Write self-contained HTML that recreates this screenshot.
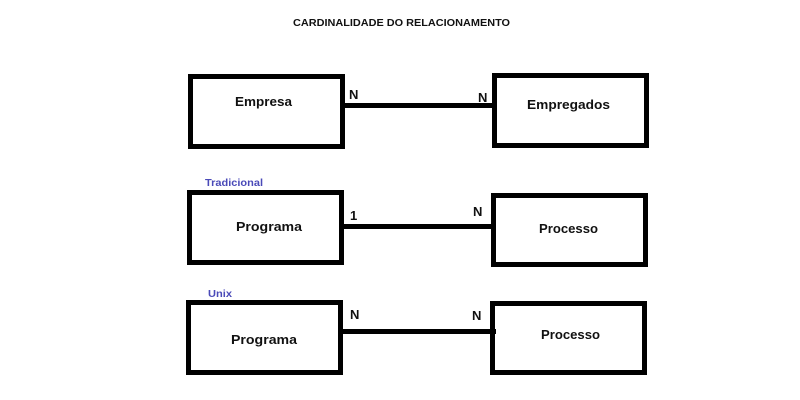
<!DOCTYPE html>
<html><head><meta charset="utf-8"><style>html,body{margin:0;padding:0;background:#fff;}svg{display:block}</style></head>
<body>
<svg width="800" height="400" viewBox="0 0 800 400" xmlns="http://www.w3.org/2000/svg" font-family="Liberation Sans, sans-serif" font-weight="bold">
<rect width="800" height="400" fill="#fff"/>
<text x="293" y="26" font-size="10" textLength="217" lengthAdjust="spacingAndGlyphs" fill="#111">CARDINALIDADE DO RELACIONAMENTO</text>
<g fill="none" stroke="#000" stroke-width="5">
<rect x="190.5" y="76.5" width="152" height="70"/>
<rect x="494.5" y="75.5" width="152" height="70"/>
<rect x="189.5" y="192.5" width="152" height="70"/>
<rect x="493.5" y="195.5" width="152" height="69"/>
<rect x="188.5" y="302.5" width="152" height="70"/>
<rect x="492.5" y="303.5" width="152" height="69"/>
</g>
<g stroke="#000" stroke-width="5">
<line x1="343" y1="105.5" x2="494" y2="105.5"/>
<line x1="342" y1="226.5" x2="493" y2="226.5"/>
<line x1="341" y1="331.5" x2="496" y2="331.5"/>
</g>
<g font-size="13" fill="#111">
<text x="235" y="106" textLength="57" lengthAdjust="spacingAndGlyphs">Empresa</text>
<text x="527" y="109" textLength="83" lengthAdjust="spacingAndGlyphs">Empregados</text>
<text x="236" y="231" textLength="66" lengthAdjust="spacingAndGlyphs">Programa</text>
<text x="539" y="233" textLength="59" lengthAdjust="spacingAndGlyphs">Processo</text>
<text x="231" y="344" textLength="66" lengthAdjust="spacingAndGlyphs">Programa</text>
<text x="541" y="339" textLength="59" lengthAdjust="spacingAndGlyphs">Processo</text>
<text x="349" y="99">N</text>
<text x="478" y="102">N</text>
<text x="350" y="220">1</text>
<text x="473" y="216">N</text>
<text x="350" y="319">N</text>
<text x="472" y="320">N</text>
</g>
<g font-size="10" fill="#4a4ab8">
<text x="205" y="186" textLength="58" lengthAdjust="spacingAndGlyphs">Tradicional</text>
<text x="208" y="297" textLength="24" lengthAdjust="spacingAndGlyphs">Unix</text>
</g>
</svg>
</body></html>
